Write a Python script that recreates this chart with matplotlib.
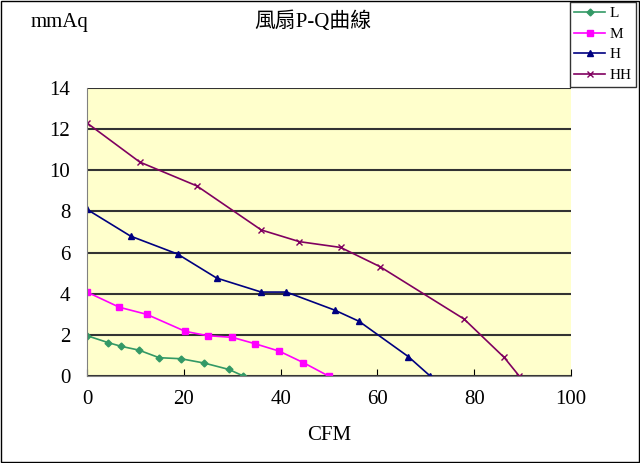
import matplotlib
matplotlib.use('Agg')
import matplotlib.pyplot as plt
from matplotlib.patches import Rectangle

plt.rcParams['font.family'] = ['Liberation Serif', 'Noto Sans CJK TC']

L_x = [0, 4.4, 7.1, 10.7, 14.9, 19.4, 24.2, 29.3, 32.3]
L_y = [1.96, 1.62, 1.44, 1.26, 0.89, 0.84, 0.63, 0.32, 0]
M_x = [0, 6.7, 12.3, 20.3, 24.9, 30.0, 34.7, 39.7, 44.7, 49.9]
M_y = [4.08, 3.34, 3.0, 2.17, 1.96, 1.88, 1.57, 1.21, 0.65, 0]
H_x = [0, 9.0, 18.7, 26.8, 36.0, 41.2, 51.2, 56.2, 66.4, 70.9]
H_y = [8.1, 6.8, 5.93, 4.76, 4.08, 4.08, 3.2, 2.66, 0.94, 0]
HH_x = [0, 10.9, 22.7, 36.0, 43.9, 52.4, 60.5, 77.9, 86.2, 89.3]
HH_y = [12.3, 10.4, 9.24, 7.1, 6.53, 6.25, 5.32, 2.77, 0.9, 0]

fig = plt.figure(figsize=(6.4, 4.63), dpi=100)
fig.patches.append(Rectangle((0.002, 0.002), 0.996, 0.996, transform=fig.transFigure,
                             fill=False, edgecolor='black', linewidth=1))
ax = fig.add_axes([87/640, 1-376/463, (571-87)/640, (376-88)/463])
ax.set_facecolor('#FFFFCC')

ax.plot(L_x, L_y, color='#339966', marker='D', markersize=3.5, linewidth=1.2, label='L')
ax.plot(M_x, M_y, color='#FF00FF', marker='s', markersize=5, linewidth=1.2, label='M')
ax.plot(H_x, H_y, color='#000080', marker='^', markersize=5, linewidth=1.2, label='H')
ax.plot(HH_x, HH_y, color='#800060', marker='x', markersize=4, linewidth=1.2, label='HH')

ax.set_xlim(0, 100)
ax.set_ylim(0, 14)
ax.set_xticks(range(0, 101, 20))
ax.set_yticks(range(0, 15, 2))
ax.yaxis.grid(True, color='#333333', linewidth=1.5)
ax.set_axisbelow(True)
for s in ['top', 'right']:
    ax.spines[s].set_visible(False)
ax.spines['left'].set_color('#808080')
ax.spines['bottom'].set_color('#808080')
ax.tick_params(labelsize=15, length=5, direction='in')
ax.tick_params(axis='x', pad=10)
ax.tick_params(axis='y', length=0, pad=12)
ax.set_xlabel('CFM', fontsize=15, labelpad=12)

fig.text(60/640, 1-22/463, 'mmAq', fontsize=15, ha='center', va='center')
fig.text(313/640, 1-22/463, '風扇P-Q曲線', fontsize=15, ha='center', va='center')

leg = fig.legend(loc='upper right', bbox_to_anchor=(636/640, 1-2/463), fontsize=11,
                 frameon=True, fancybox=False, edgecolor='black', handlelength=2.0,
                 handletextpad=0.3, borderpad=0.3, labelspacing=0.45, borderaxespad=0)

fig.savefig('out.png', dpi=100)
